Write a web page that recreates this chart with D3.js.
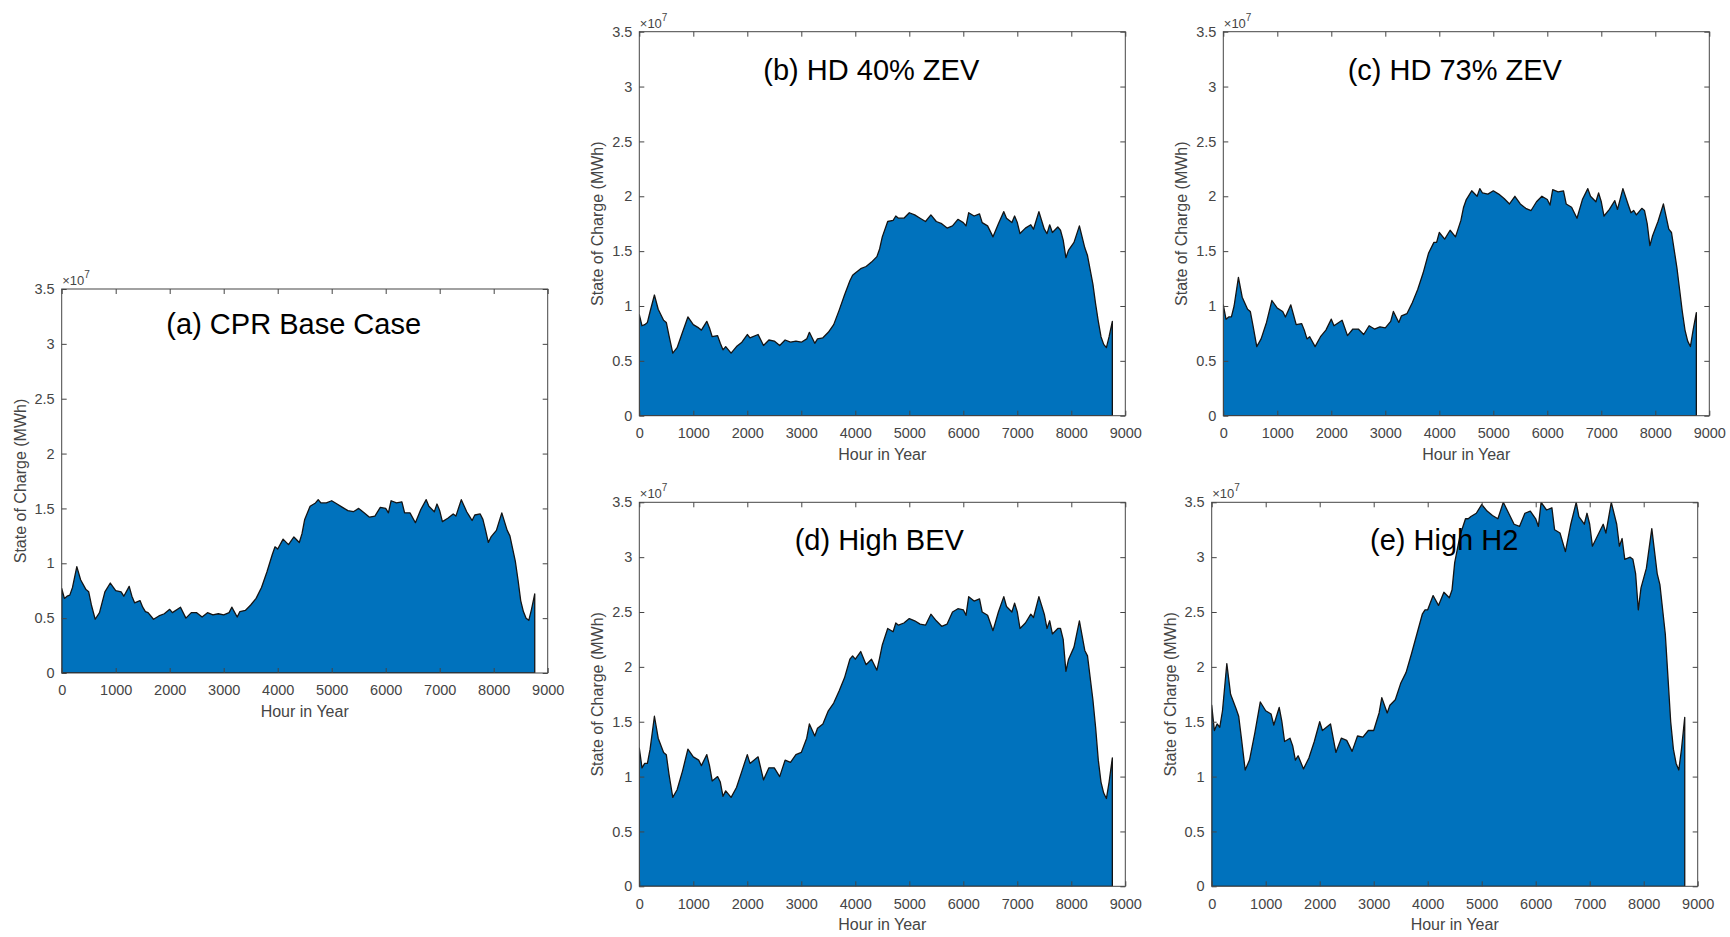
<!DOCTYPE html>
<html><head><meta charset="utf-8">
<script src="https://cdn.jsdelivr.net/npm/d3@7"></script>
<style>
body{margin:0;background:#fff}
svg{display:block}
text{font-family:"Liberation Sans",Arial,Helvetica,sans-serif}
</style>
</head><body>
<svg id="chart" width="1730" height="937"></svg>
<script>
// Hour in year at which each value was read
const hours = [0,50,100,150,200,280,350,450,500,550,
 620,700,800,900,1000,1100,1150,1250,1300,1350,
 1450,1500,1550,1600,1700,1800,1900,2000,2050,2200,
 2300,2400,2500,2600,2700,2800,2900,3000,3100,3150,
 3250,3300,3400,3500,3600,3700,3800,3900,3950,4000,
 4100,4200,4300,4400,4450,4500,4600,4700,4750,4800,
 4900,5000,5100,5200,5300,5400,5500,5600,5700,5800,
 5900,6000,6050,6100,6200,6300,6350,6450,6550,6650,
 6750,6800,6900,6950,7000,7050,7150,7250,7300,7400,
 7500,7550,7600,7650,7750,7800,7850,7900,7950,8050,
 8150,8250,8300,8400,8450,8500,8550,8600,8650,8700,
 8760];

// State of charge, in units of 10^7 MWh
const socBase = [0.77,0.68,0.70,0.71,0.78,0.97,0.85,0.76,0.74,0.62,
 0.49,0.55,0.74,0.82,0.75,0.74,0.70,0.79,0.70,0.64,
 0.66,0.60,0.56,0.55,0.49,0.52,0.54,0.58,0.55,0.60,
 0.50,0.55,0.55,0.51,0.55,0.53,0.54,0.53,0.55,0.60,
 0.51,0.56,0.57,0.62,0.68,0.78,0.92,1.08,1.15,1.13,
 1.22,1.17,1.24,1.19,1.27,1.40,1.52,1.55,1.58,1.55,
 1.55,1.57,1.54,1.51,1.48,1.47,1.50,1.46,1.42,1.43,
 1.51,1.50,1.46,1.57,1.55,1.56,1.46,1.46,1.37,1.49,
 1.58,1.52,1.47,1.54,1.48,1.38,1.41,1.45,1.43,1.58,
 1.47,1.43,1.39,1.44,1.45,1.40,1.30,1.19,1.24,1.30,
 1.46,1.30,1.25,1.02,0.85,0.66,0.56,0.50,0.48,0.58,
 0.72];

const socHD40 = [0.92,0.82,0.83,0.85,0.95,1.10,0.97,0.87,0.85,0.73,
 0.57,0.62,0.76,0.90,0.83,0.80,0.78,0.86,0.80,0.72,
 0.73,0.66,0.60,0.63,0.57,0.63,0.67,0.74,0.71,0.74,
 0.64,0.69,0.68,0.64,0.69,0.67,0.68,0.67,0.70,0.76,
 0.66,0.70,0.71,0.76,0.83,0.96,1.10,1.23,1.28,1.30,
 1.34,1.36,1.40,1.45,1.52,1.63,1.77,1.78,1.82,1.80,
 1.80,1.85,1.83,1.80,1.77,1.83,1.77,1.75,1.71,1.73,
 1.79,1.76,1.73,1.85,1.82,1.84,1.76,1.73,1.63,1.75,
 1.86,1.80,1.76,1.82,1.76,1.66,1.71,1.74,1.70,1.86,
 1.70,1.66,1.74,1.67,1.72,1.69,1.60,1.44,1.51,1.58,
 1.73,1.53,1.46,1.20,1.02,0.86,0.72,0.65,0.62,0.72,
 0.86];

const socHD73 = [1.01,0.88,0.90,0.90,1.00,1.26,1.08,0.97,0.95,0.82,
 0.63,0.70,0.85,1.05,0.98,0.95,0.90,1.01,0.92,0.83,
 0.84,0.78,0.70,0.72,0.63,0.72,0.78,0.88,0.82,0.87,
 0.73,0.79,0.79,0.74,0.82,0.79,0.81,0.80,0.86,0.95,
 0.85,0.91,0.93,1.03,1.15,1.30,1.48,1.58,1.58,1.67,
 1.61,1.69,1.63,1.78,1.90,1.97,2.05,2.00,2.07,2.03,
 2.02,2.05,2.02,1.98,1.93,2.00,1.93,1.89,1.87,1.95,
 2.00,1.97,1.92,2.06,2.04,2.05,1.93,1.90,1.80,1.97,
 2.07,2.00,1.95,2.03,1.95,1.82,1.88,1.96,1.88,2.07,
 1.92,1.85,1.87,1.83,1.89,1.87,1.75,1.55,1.64,1.77,
 1.93,1.70,1.67,1.35,1.15,0.95,0.78,0.68,0.63,0.78,
 0.94];

const socHighBEV = [1.26,1.08,1.12,1.12,1.25,1.55,1.35,1.22,1.20,1.02,
 0.81,0.88,1.05,1.25,1.18,1.15,1.10,1.20,1.10,0.96,
 1.00,0.95,0.82,0.87,0.81,0.90,1.05,1.20,1.12,1.18,
 0.97,1.08,1.08,1.00,1.15,1.13,1.20,1.22,1.35,1.48,
 1.37,1.44,1.48,1.60,1.67,1.78,1.90,2.07,2.10,2.07,
 2.14,2.02,2.07,1.97,2.08,2.20,2.35,2.32,2.40,2.38,
 2.40,2.44,2.42,2.39,2.38,2.48,2.42,2.37,2.39,2.50,
 2.53,2.52,2.47,2.64,2.60,2.62,2.50,2.47,2.33,2.50,
 2.64,2.55,2.50,2.58,2.50,2.35,2.40,2.48,2.45,2.64,
 2.48,2.35,2.42,2.30,2.35,2.35,2.25,1.96,2.07,2.18,
 2.42,2.15,2.10,1.70,1.45,1.15,0.95,0.85,0.80,0.95,
 1.17];

const socHighH2 = [1.65,1.42,1.48,1.45,1.60,2.03,1.75,1.62,1.55,1.35,
 1.06,1.15,1.40,1.68,1.60,1.57,1.47,1.63,1.50,1.32,
 1.35,1.28,1.15,1.19,1.07,1.17,1.32,1.50,1.42,1.48,
 1.22,1.35,1.33,1.23,1.37,1.36,1.42,1.42,1.58,1.72,
 1.58,1.65,1.70,1.85,1.95,2.12,2.30,2.48,2.52,2.52,
 2.65,2.56,2.68,2.63,2.70,2.95,3.20,3.35,3.35,3.37,
 3.40,3.48,3.42,3.38,3.35,3.50,3.40,3.30,3.28,3.40,
 3.42,3.35,3.28,3.50,3.43,3.45,3.25,3.22,3.05,3.30,
 3.50,3.37,3.30,3.40,3.30,3.10,3.20,3.30,3.22,3.50,
 3.30,3.10,3.17,2.98,3.00,2.98,2.85,2.52,2.72,2.90,
 3.26,2.85,2.75,2.30,1.90,1.50,1.25,1.12,1.06,1.25,
 1.54];

const titles = ["(a) CPR Base Case","(b) HD 40% ZEV","(c) HD 73% ZEV","(d) High BEV","(e) High H2"];
const xTicks = [0,1000,2000,3000,4000,5000,6000,7000,8000,9000];
const yTicks = [0,0.5,1,1.5,2,2.5,3,3.5];
const yTickLabels = ["0","0.5","1","1.5","2","2.5","3","3.5"];
const xLabel = "Hour in Year";
const yLabel = "State of Charge (MWh)";
const exponentBase = "\u00d710";
const exponent = "7";

// layout
const W = 486, H = 384;
const layout = [
  {left:61.7,  top:289.0, tdx:232,   tdy:45},
  {left:639.3, top:31.7,  tdx:232,   tdy:48},
  {left:1223.3,top:31.7,  tdx:231.5, tdy:48},
  {left:639.3, top:502.3, tdx:240,   tdy:48},
  {left:1211.7,top:502.3, tdx:232.5, tdy:48}
];
const series = [socBase, socHD40, socHD73, socHighBEV, socHighH2];
const axisColor = "#454545";

const svg = d3.select("#chart");
svg.append("rect").attr("width",1730).attr("height",937).attr("fill","#fff");

series.forEach((vals, i) => {
  const L = layout[i];
  const g = svg.append("g").attr("transform", `translate(${L.left},${L.top})`);
  const x = d3.scaleLinear().domain([0, 9000]).range([0, W]);
  const y = d3.scaleLinear().domain([0, 3.5]).range([H, 0]);
  const data = hours.map((h, k) => ({h, v: vals[k]}));

  const cid = "clip" + i;
  g.append("clipPath").attr("id", cid).append("rect")
    .attr("x", 0).attr("y", 0).attr("width", W).attr("height", H);

  g.append("path").datum(data)
    .attr("clip-path", `url(#${cid})`)
    .attr("d", d3.area().x(d => x(d.h)).y0(y(0)).y1(d => y(d.v)))
    .attr("fill", "#0072BD")
    .attr("stroke", "#141414")
    .attr("stroke-width", 1.3)
    .attr("stroke-linejoin", "round");

  // axes
  const fmtX = d3.format("d");
  const bottom = g.append("g").attr("transform", `translate(0,${H})`)
    .call(d3.axisBottom(x).tickValues(xTicks).tickSize(-5).tickSizeOuter(0).tickPadding(12).tickFormat(fmtX));
  const top = g.append("g")
    .call(d3.axisTop(x).tickValues(xTicks).tickSize(-5).tickSizeOuter(0).tickFormat(""));
  const left = g.append("g")
    .call(d3.axisLeft(y).tickValues(yTicks).tickSize(-5).tickSizeOuter(0).tickPadding(7)
      .tickFormat((d, k) => yTickLabels[k]));
  const right = g.append("g").attr("transform", `translate(${W},0)`)
    .call(d3.axisRight(y).tickValues(yTicks).tickSize(-5).tickSizeOuter(0).tickFormat(""));
  [bottom, top, left, right].forEach(a => {
    a.select(".domain").remove();
    a.selectAll("line").attr("stroke", axisColor);
    a.selectAll("text").attr("fill", axisColor).attr("font-size", 14.5)
      .attr("font-family", '"Liberation Sans",Arial,sans-serif');
  });

  g.append("rect").attr("x", 0).attr("y", 0).attr("width", W).attr("height", H)
    .attr("fill", "none").attr("stroke", axisColor).attr("stroke-width", 1);

  // exponent
  const ex = g.append("text").attr("x", 0.5).attr("y", -4).attr("fill", axisColor).attr("font-size", 13);
  ex.append("tspan").text(exponentBase);
  ex.append("tspan").attr("dy", -7).attr("font-size", 10).text(exponent);

  // axis labels
  g.append("text").attr("x", W / 2).attr("y", H + 44).attr("text-anchor", "middle")
    .attr("fill", axisColor).attr("font-size", 16).text(xLabel);
  g.append("text").attr("transform", `translate(-36,${H / 2}) rotate(-90)`).attr("text-anchor", "middle")
    .attr("fill", axisColor).attr("font-size", 16).text(yLabel);

  // title
  g.append("text").attr("x", L.tdx).attr("y", L.tdy).attr("text-anchor", "middle")
    .attr("fill", "#000").attr("font-size", 29).text(titles[i]);
});
</script>
</body></html>
